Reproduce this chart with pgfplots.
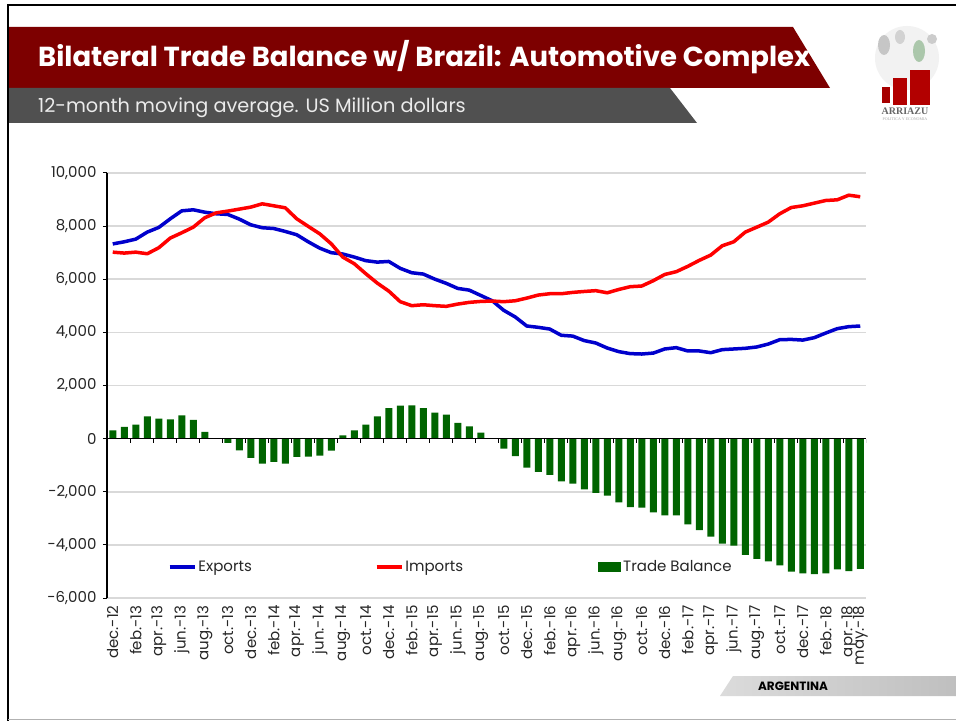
\documentclass[border=0pt]{standalone}
\usepackage{fontspec}
\setmainfont{Poppins}
\newfontfamily\serifb{Liberation Serif}
\usepackage{pgfplots}
\usepackage{pgfplotstable}
\pgfplotsset{compat=1.18}
\definecolor{bannerred}{RGB}{125,0,0}
\definecolor{bandgray}{RGB}{80,80,80}
\definecolor{expblue}{RGB}{0,0,204}
\definecolor{impred}{RGB}{255,0,0}
\definecolor{bargreen}{RGB}{0,100,0}
\definecolor{gridgray}{RGB}{217,217,217}
\pgfplotsset{
  lineleg/.style={legend image code/.code={\draw[##1] (0pt,0pt) -- (25pt,0pt);}},
  barleg/.style={legend image code/.code={\fill[##1] (0pt,-5pt) rectangle (23pt,5pt);}},
}

\pgfplotstableread{
x exp imp bal
0 7330 7020 310
1 7410 6985 440
2 7510 7020 525
3 7775 6960 840
4 7950 7185 750
5 8275 7550 725
6 8575 7750 875
7 8615 7960 710
8 8525 8315 250
9 8465 8500 20
10 8440 8565 -160
11 8265 8640 -440
12 8050 8715 -725
13 7940 8840 -940
14 7910 8765 -875
15 7800 8690 -940
16 7675 8275 -690
17 7410 7990 -675
18 7170 7710 -640
19 7000 7335 -450
20 6950 6835 125
21 6835 6585 310
22 6700 6210 525
23 6645 5855 840
24 6670 5555 1150
25 6410 5155 1240
26 6245 5005 1250
27 6195 5040 1150
28 6005 5005 975
29 5845 4980 900
30 5655 5065 590
31 5590 5130 460
32 5390 5165 225
33 5190 5180 10
34 4830 5155 -375
35 4580 5190 -660
36 4240 5290 -1090
37 4190 5405 -1250
38 4125 5455 -1360
39 3890 5455 -1610
40 3860 5505 -1690
41 3690 5540 -1910
42 3600 5570 -2040
43 3410 5490 -2150
44 3275 5615 -2400
45 3200 5720 -2575
46 3185 5745 -2600
47 3220 5945 -2775
48 3375 6180 -2890
49 3425 6285 -2890
50 3300 6485 -3225
51 3300 6710 -3440
52 3235 6910 -3690
53 3350 7260 -3950
54 3375 7410 -4025
55 3400 7775 -4375
56 3450 7960 -4525
57 3560 8150 -4625
58 3725 8465 -4775
59 3735 8700 -5010
60 3710 8765 -5075
61 3800 8865 -5100
62 3975 8965 -5075
63 4140 8990 -4925
64 4215 9165 -4990
65 4240 9105 -4900
}\datatable

\begin{document}
\begin{tikzpicture}[x=1pt,y=1pt]
\fill[white] (0,0) rectangle (956,721);
\path[use as bounding box] (0,0) rectangle (956,721);
% frame
\draw[black, line width=2pt] (8,0.5) -- (8,716) -- (956,716);
\draw[gray!60, line width=1.5pt] (8,1.5) -- (956,1.5);
% banners
\fill[bannerred] (9,694) -- (793,694) -- (830,633) -- (9,633) -- cycle;
\fill[bandgray] (9,633) -- (670,633) -- (697,598) -- (9,598) -- cycle;
\node[anchor=base west, inner sep=0pt, text=white] at (38,654)
  {\resizebox{772pt}{!}{\bfseries Bilateral Trade Balance w/ Brazil: Automotive Complex}};
\node[anchor=base west, inner sep=0pt, text=white!92!black] at (38,608)
  {\fontsize{19.3}{19.3}\selectfont 12-month moving average. US Million dollars};
% logo
\fill[gray!10] (907,663) circle (32);
\fill[gray!45] (884,676) ellipse (6 and 10);
\fill[gray!35] (900,684) ellipse (5 and 7);
\fill[green!20!gray!55] (919,670) ellipse (6 and 11);
\fill[gray!40] (932,682) ellipse (5 and 5);
\fill[red!65!black] (882,618) rectangle (890,634);
\fill[red!70!black] (893,616) rectangle (907,643);
\fill[red!70!black] (910,616) rectangle (930,651);
\node[text=gray!80!black, font=\serifb\bfseries\fontsize{10}{10}\selectfont, inner sep=0pt] at (905,610) {ARRIAZU};
\node[text=gray!70, font=\serifb\fontsize{4}{4}\selectfont, inner sep=0pt] at (905,602) {POLITICA Y ECONOMIA};
% argentina band
\shade[left color=gray!28, right color=gray!50] (733,45) -- (956,45) -- (956,25) -- (720,25) -- cycle;
\node[font=\bfseries\fontsize{12}{12}\selectfont, inner sep=0pt] at (793,35) {ARGENTINA};

\begin{axis}[
  at={(107pt,123pt)}, anchor=south west,
  scale only axis, width=759pt, height=425pt,
  xmin=-0.5, xmax=65.5, ymin=-6000, ymax=10000,
  axis x line*=bottom, axis y line*=left,
  x axis line style={draw=none,-},
  y axis line style={black, line width=1.5pt,-},
  scaled y ticks=false,
  ytick={-6000,-4000,...,10000},
  yticklabels={{-6,000},{-4,000},{-2,000},0,{2,000},{4,000},{6,000},{8,000},{10,000}},
  ymajorgrids, grid style={draw=gridgray, line width=1.5pt},
  xtick={0,2,...,64,65},
  xticklabels={dec.-12,feb.-13,apr.-13,jun.-13,aug.-13,oct.-13,dec.-13,feb.-14,apr.-14,jun.-14,aug.-14,oct.-14,dec.-14,feb.-15,apr.-15,jun.-15,aug.-15,oct.-15,dec.-15,feb.-16,apr.-16,jun.-16,aug.-16,oct.-16,dec.-16,feb.-17,apr.-17,jun.-17,aug.-17,oct.-17,dec.-17,feb.-18,apr.-18,may.-18},
  xticklabel style={rotate=90, anchor=east, font=\fontsize{15}{15}\selectfont, text=black!85},
  yticklabel style={font=\fontsize{15}{15}\selectfont, text=black!85, xshift=-3pt},
  x tick style={draw=none},
  y tick style={black, line width=1pt},
  tick align=outside, major tick length=4pt,
  legend columns=3,
  legend style={draw=none, fill=none, at={(0.076,0.073)}, anchor=west,
    font=\fontsize{15}{15}\selectfont, text=black!85,
    /tikz/column 2/.style={column sep=121pt},
    /tikz/column 4/.style={column sep=133pt}},
]
\addplot[draw=expblue, line width=3.5pt, line join=round, no markers, lineleg]
  table[x=x, y=exp]{\datatable};
\addlegendentry{Exports}
\addplot[draw=impred, line width=3.5pt, line join=round, no markers, lineleg]
  table[x=x, y=imp]{\datatable};
\addlegendentry{Imports}
\addplot[ybar, bar width=7pt, fill=bargreen, draw=none, barleg]
  table[x=x, y=bal]{\datatable};
\addlegendentry{Trade Balance}
\draw[black, line width=1.5pt] (axis cs:-0.5,0) -- (axis cs:65.5,0);
\pgfplotsinvokeforeach{1.5,3.5,...,65.5}{
  \draw[black, line width=1pt] (axis cs:#1,0) -- ([yshift=-4pt]axis cs:#1,0);
}
\end{axis}
\end{tikzpicture}
\end{document}
